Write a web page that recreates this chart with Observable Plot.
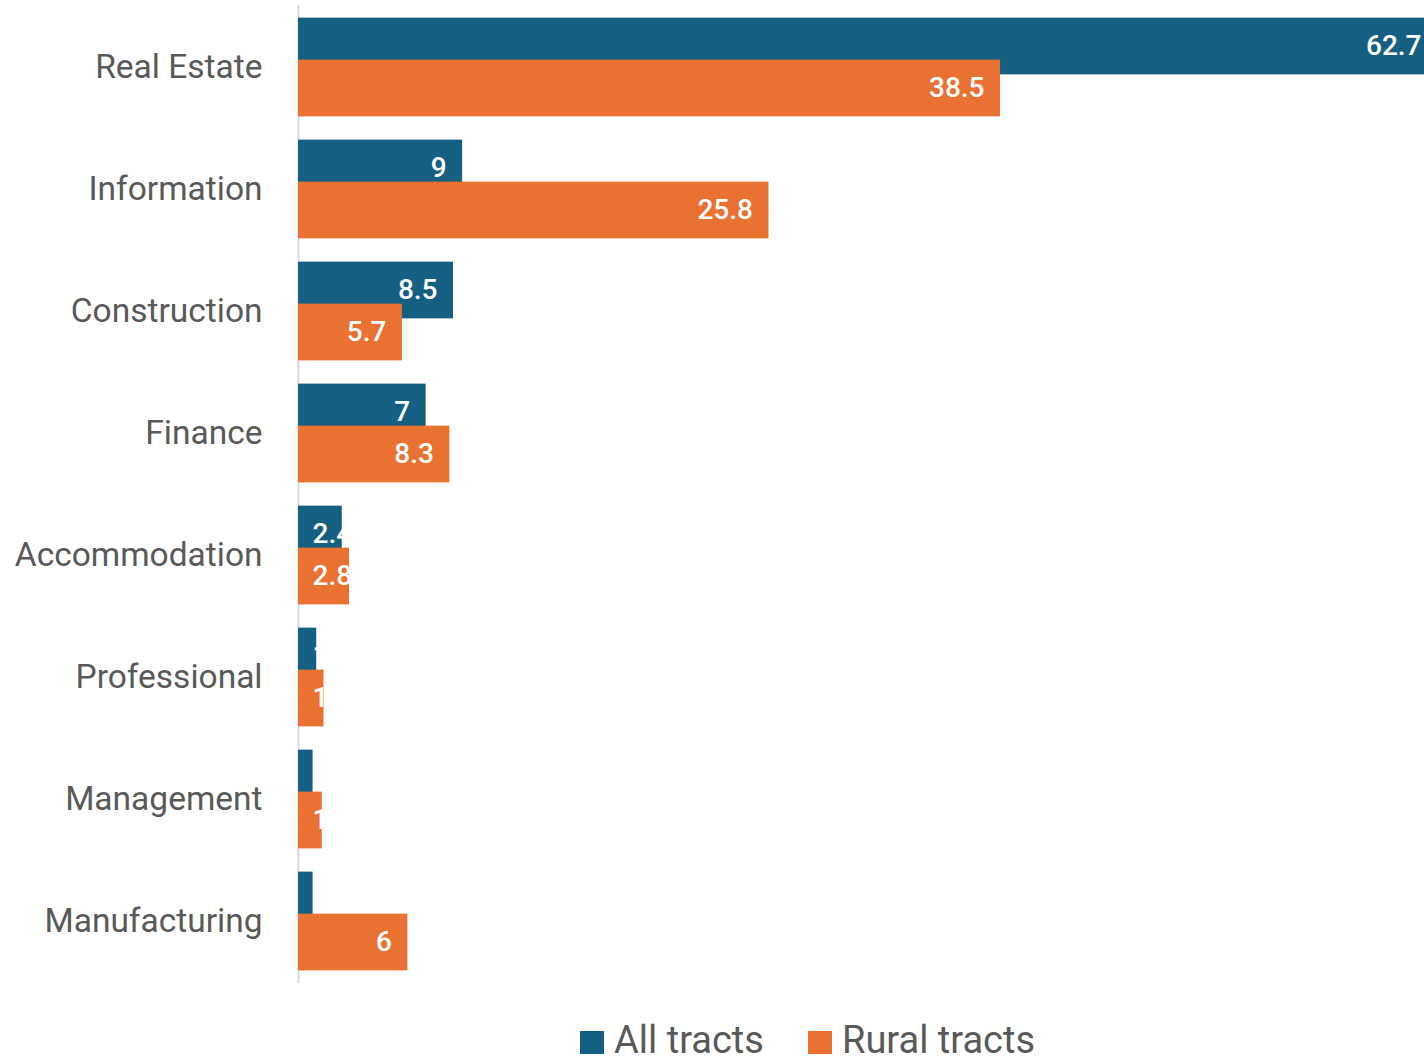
<!DOCTYPE html>
<html>
<head>
<meta charset="utf-8">
<script src="https://cdn.jsdelivr.net/npm/d3@7"></script>
<script src="https://cdn.jsdelivr.net/npm/@observablehq/plot@0.6"></script>
<style>
  html, body { margin: 0; padding: 0; background: #fff; overflow: hidden; }
  #chart svg { display: block; }
  #legend { position: relative; height: 53px; font-family: Roboto, sans-serif; color: #595959; }
  #legend .sw { position: absolute; top: 21px; width: 24px; height: 23px; }
  #legend .lb { position: absolute; top: 15px; font-size: 38px; line-height: 30px; white-space: nowrap; }
</style>
</head>
<body>
<div id="chart"></div>
<div id="legend"></div>
<script>
const categories = ["Real Estate", "Information", "Construction", "Finance", "Accommodation", "Professional", "Management", "Manufacturing"];
const allTracts = [62.7, 9, 8.5, 7, 2.4, 1.0, 0.8, 0.8];
const ruralTracts = [38.5, 25.8, 5.7, 8.3, 2.8, 1.4, 1.3, 6];
const seriesNames = ["All tracts", "Rural tracts"];
const colors = ["#156082", "#E97132"];

const allData = categories.map((c, i) => ({category: c, value: allTracts[i]}));
const ruralData = categories.map((c, i) => ({category: c, value: ruralTracts[i]}));

const W = 1424, H = 1010;
const xMax = 61.75;
const step = (H - 27 - 5) / categories.length;
const half = step / 2;
const barTop = 49.5, barBot = 7.5;

const fmt = v => String(v);
const labelFont = {fontSize: 28, fontWeight: 500, fill: "white", fontFamily: "Roboto, sans-serif"};

function labels(data, dy) {
  return [
    Plot.text(data.filter(d => d.value >= 4 && d.value <= xMax), {x: "value", y: "category", text: d => fmt(d.value), textAnchor: "end", dx: -16, dy, ...labelFont}),
    Plot.text(data.filter(d => d.value > xMax), {x: () => xMax, y: "category", text: d => fmt(d.value), textAnchor: "end", dx: -3, dy, ...labelFont}),
    Plot.text(data.filter(d => d.value < 4), {x: 0, y: "category", text: d => fmt(d.value), textAnchor: "start", dx: 14, dy, ...labelFont})
  ];
}

const chart = Plot.plot({
  width: W,
  height: H,
  marginLeft: 298,
  marginRight: 0,
  marginTop: 5,
  marginBottom: 27,
  style: {fontFamily: "Roboto, sans-serif", color: "#595959", background: "white"},
  x: {domain: [0, xMax], axis: null},
  y: {type: "band", domain: categories, padding: 0, label: null},
  marks: [
    Plot.axisY({tickSize: 0, tickPadding: 36, fontSize: 33.5, label: null}),
    Plot.ruleX([0], {stroke: "#D9D9D9", strokeWidth: 2}),
    Plot.barX(allData, {x: "value", y: "category", fill: colors[0], insetTop: half - barTop, insetBottom: half - barBot, clip: true}),
    Plot.barX(ruralData, {x: "value", y: "category", fill: colors[1], insetTop: half - barBot, insetBottom: half - barTop, clip: true}),
    ...labels(allData, -21),
    ...labels(ruralData, 21)
  ]
});
document.getElementById("chart").appendChild(chart);

const legend = document.getElementById("legend");
const pos = [{sw: 580, lb: 614}, {sw: 808, lb: 842}];
seriesNames.forEach((n, i) => {
  const s = document.createElement("div");
  s.className = "sw"; s.style.left = pos[i].sw + "px"; s.style.background = colors[i];
  const t = document.createElement("div");
  t.className = "lb"; t.style.left = pos[i].lb + "px"; t.textContent = n;
  legend.appendChild(s); legend.appendChild(t);
});
</script>
</body>
</html>
